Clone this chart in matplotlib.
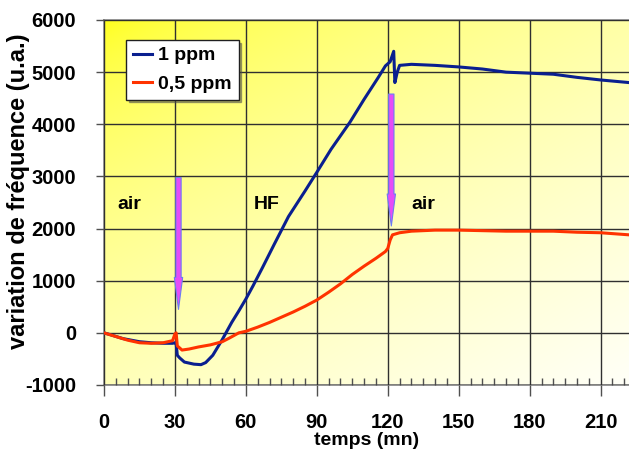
import numpy as np
import matplotlib
matplotlib.use("Agg")
import matplotlib.pyplot as plt
from matplotlib.ticker import MultipleLocator

plt.rcParams['font.family'] = ['Liberation Sans', 'DejaVu Sans']
plt.rcParams['axes.unicode_minus'] = False

# Données
t_1ppm = [0, 3, 8, 15, 20, 25, 29, 30, 30.5, 31, 32, 34, 38, 41, 43, 46, 50, 54, 57,
          60, 63, 67, 72, 78, 85, 90, 96, 104, 110, 116, 119, 121, 122.5, 123, 124,
          125, 130, 140, 150, 160, 170, 180, 190, 200, 210, 222]
f_1ppm = [0, -40, -110, -170, -190, -200, -200, -190, -200, -430, -480, -560, -600,
          -610, -570, -430, -130, 200, 420, 650, 900, 1250, 1700, 2230, 2720, 3080,
          3520, 4040, 4480, 4900, 5120, 5200, 5400, 4800, 5000, 5130, 5150, 5130,
          5100, 5060, 5000, 4980, 4960, 4900, 4850, 4800]

t_05ppm = [0, 5, 10, 15, 20, 25, 29, 30, 30.5, 31, 33, 36, 40, 45, 50, 53, 57, 60,
           65, 70, 75, 80, 85, 90, 95, 100, 105, 110, 115, 119, 120, 121, 122, 125,
           130, 140, 150, 160, 170, 180, 190, 200, 210, 222]
f_05ppm = [0, -70, -140, -190, -200, -190, -150, -20, 0, -250, -330, -310, -270,
           -230, -170, -100, 0, 30, 110, 200, 300, 400, 510, 630, 780, 940, 1120,
           1280, 1430, 1560, 1620, 1780, 1880, 1920, 1950, 1970, 1970, 1960, 1950,
           1950, 1950, 1930, 1920, 1880]

labels = ["air", "HF", "air"]
label_x = [10.5, 69, 135]
label_y = [2460, 2460, 2460]

arrow_x = [31.5, 121.5]
arrow_top = [2980, 4580]
arrow_tip = [450, 2050]

fig = plt.figure(figsize=(6.29, 4.55), dpi=100)
ax = fig.add_axes([104 / 629, 1 - 385 / 455, 1 - 104 / 629, 365 / 455])

# fond dégradé jaune -> blanc (coin haut gauche jaune vif)
xmin, xmax, ymin, ymax = 0, 222, -1000, 6000
u, v = np.meshgrid(np.linspace(0, 1, 200), np.linspace(0, 1, 200))
d = 0.45 * u + 0.55 * v
img = np.ones((200, 200, 3))
img[..., 2] = 0.08 + 0.89 * d ** 0.55
ax.imshow(img, extent=[xmin, xmax, ymin, ymax], aspect='auto', zorder=0,
          origin='upper')
ax.set_xlim(xmin, xmax)
ax.set_ylim(ymin, ymax)

ax.grid(True, which='major', color='#303030', lw=1.0, zorder=1)
ax.set_axisbelow(False)

ax.plot(t_1ppm, f_1ppm, color='#0A1F8F', lw=2.2, label='1 ppm', zorder=3)
ax.plot(t_05ppm, f_05ppm, color='#FF3300', lw=2.2, label='0,5 ppm', zorder=3)

for x0, y0, y1 in zip(arrow_x, arrow_top, arrow_tip):
    ax.annotate('', xy=(x0, y1), xytext=(x0, y0),
                arrowprops=dict(arrowstyle='simple,head_length=2.3,head_width=0.6,tail_width=0.38',
                                fc='#E64CF7', ec='#6C7CF2', lw=0.8,
                                mutation_scale=10, shrinkA=0, shrinkB=0),
                zorder=4)

for s, x0, y0 in zip(labels, label_x, label_y):
    ax.text(x0, y0, s, fontsize=14, fontweight='bold', ha='center', va='center',
            zorder=5)

ax.xaxis.set_major_locator(MultipleLocator(30))
ax.xaxis.set_minor_locator(MultipleLocator(5))
ax.yaxis.set_major_locator(MultipleLocator(1000))
ax.tick_params(axis='x', which='major', direction='out', length=8, width=1,
               color='#505050', pad=12, labelsize=14.5)
ax.tick_params(axis='x', which='minor', direction='in', length=5, width=1,
               color='#505050')
ax.tick_params(axis='y', which='major', direction='out', length=6, width=1,
               color='#505050', pad=14, labelsize=14.5)
for lab in ax.get_xticklabels() + ax.get_yticklabels():
    lab.set_fontweight('bold')

for sp in ['left', 'bottom', 'top']:
    ax.spines[sp].set_color('#808080')
    ax.spines[sp].set_linewidth(1.2)
ax.spines['right'].set_visible(False)

ax.set_xlabel('temps (mn)', fontsize=14, fontweight='bold')
ax.set_ylabel('variation de fréquence (u.a.)', fontsize=17, fontweight='bold')
ax.xaxis.set_label_coords(0.5, -0.13)
ax.yaxis.set_label_coords(-0.14, 0.53)

leg = ax.legend(loc='upper left', bbox_to_anchor=(0.042, 0.945),
                prop={'weight': 'bold', 'size': 14}, handlelength=1.0,
                handletextpad=0.3, borderpad=0.35, labelspacing=0.55,
                borderaxespad=0, fancybox=False, shadow=True, framealpha=1)
leg.get_frame().set_edgecolor('#202020')
leg.get_frame().set_linewidth(1.0)

fig.savefig('out.png', dpi=100)
